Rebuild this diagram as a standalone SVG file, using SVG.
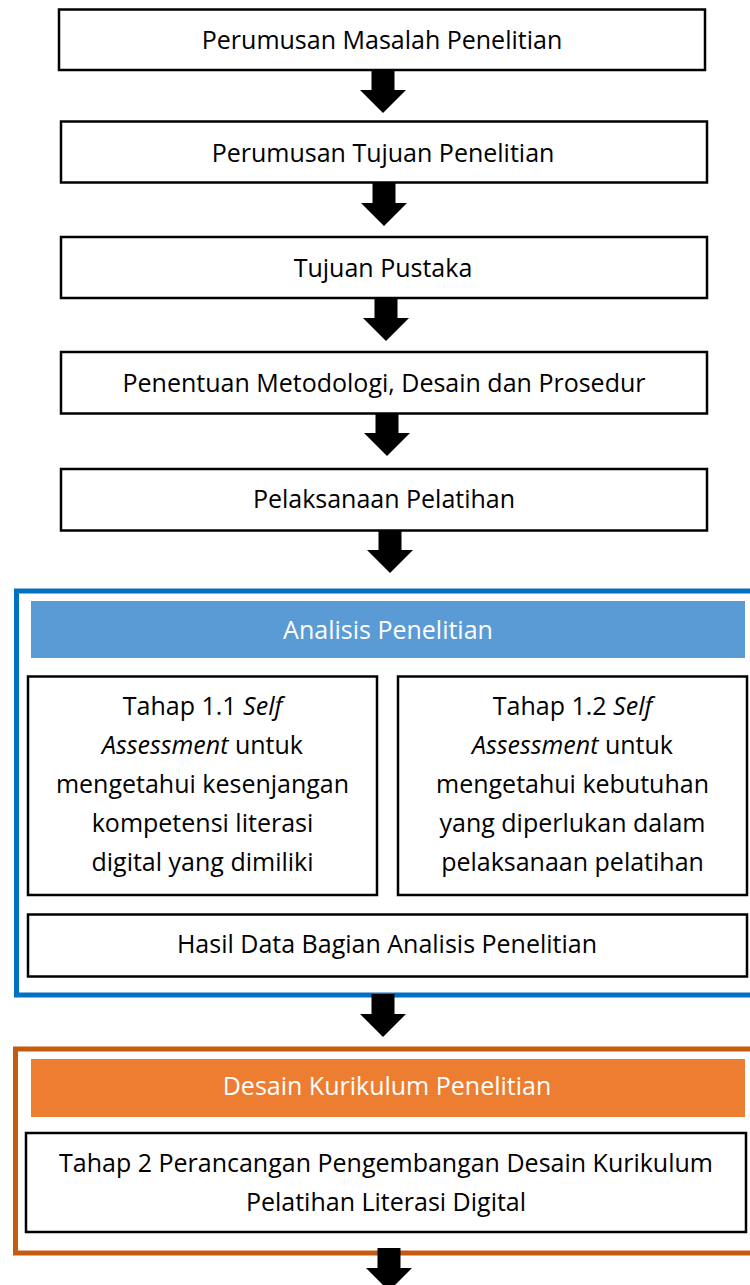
<svg xmlns="http://www.w3.org/2000/svg" width="750" height="1285" viewBox="0 0 750 1285">
<defs>
<style>
.box{fill:#fff;stroke:#000;stroke-width:2.5}
.t{font-family:"Open Sans","Liberation Sans",sans-serif;font-size:25px;fill:#000;text-anchor:middle}
.w{fill:#fff}
.i{font-style:italic}
.arr{fill:#000}
</style>
<path id="arrow" d="M-11.5,0 H11.5 V20 H23 L0,43 L-23,20 H-11.5 Z"/>
</defs>
<rect width="750" height="1285" fill="#fff"/>

<g id="frame-analisis">
<rect x="16.5" y="591" width="740" height="404" fill="none" stroke="#0070C0" stroke-width="5"/>
</g>
<g id="frame-desain">
<rect x="15.5" y="1049" width="740" height="204" fill="none" stroke="#C55A11" stroke-width="5"/>
</g>

<g id="connectors">
<use href="#arrow" class="arr" x="383" y="70"/>
<use href="#arrow" class="arr" x="384" y="183"/>
<use href="#arrow" class="arr" x="386" y="298"/>
<use href="#arrow" class="arr" x="387" y="413"/>
<use href="#arrow" class="arr" x="390" y="530"/>
<use href="#arrow" class="arr" x="383" y="994"/>
<use href="#arrow" class="arr" x="389" y="1248"/>
</g>

<g id="n1">
<rect class="box" x="59" y="9.5" width="646" height="60.5"/>
<text class="t" x="382" y="49">Perumusan Masalah Penelitian</text>
</g>
<g id="n2">
<rect class="box" x="61" y="121.5" width="646" height="61"/>
<text class="t" x="383" y="162">Perumusan Tujuan Penelitian</text>
</g>
<g id="n3">
<rect class="box" x="61" y="237" width="646" height="61"/>
<text class="t" x="383" y="277">Tujuan Pustaka</text>
</g>
<g id="n4">
<rect class="box" x="61" y="352" width="646" height="61.5"/>
<text class="t" x="384" y="392">Penentuan Metodologi, Desain dan Prosedur</text>
</g>
<g id="n5">
<rect class="box" x="61" y="469" width="646" height="61.5"/>
<text class="t" x="384" y="508">Pelaksanaan Pelatihan</text>
</g>

<g id="h-analisis">
<rect x="31" y="601" width="714" height="57" fill="#5B9BD5"/>
<text class="t w" x="388" y="639">Analisis Penelitian</text>
</g>
<g id="n6">
<rect class="box" x="28" y="676.5" width="349" height="218.5"/>
<text class="t" x="202.5" y="715">Tahap 1.1 <tspan class="i">Self</tspan></text>
<text class="t" x="202.5" y="754"><tspan class="i">Assessment</tspan> untuk</text>
<text class="t" x="202.5" y="793">mengetahui kesenjangan</text>
<text class="t" x="202.5" y="832">kompetensi literasi</text>
<text class="t" x="202.5" y="871">digital yang dimiliki</text>
</g>
<g id="n7">
<rect class="box" x="398" y="676.5" width="349" height="218.5"/>
<text class="t" x="572.5" y="715">Tahap 1.2 <tspan class="i">Self</tspan></text>
<text class="t" x="572.5" y="754"><tspan class="i">Assessment</tspan> untuk</text>
<text class="t" x="572.5" y="793">mengetahui kebutuhan</text>
<text class="t" x="572.5" y="832">yang diperlukan dalam</text>
<text class="t" x="572.5" y="871">pelaksanaan pelatihan</text>
</g>
<g id="n8">
<rect class="box" x="28" y="914.5" width="719" height="62"/>
<text class="t" x="387" y="953">Hasil Data Bagian Analisis Penelitian</text>
</g>

<g id="h-desain">
<rect x="31" y="1059" width="714" height="58" fill="#ED7D31"/>
<text class="t w" x="387" y="1095">Desain Kurikulum Penelitian</text>
</g>
<g id="n9">
<rect class="box" x="26" y="1133" width="720" height="99"/>
<text class="t" x="386" y="1172">Tahap 2 Perancangan Pengembangan Desain Kurikulum</text>
<text class="t" x="386" y="1211">Pelatihan Literasi Digital</text>
</g>
</svg>
